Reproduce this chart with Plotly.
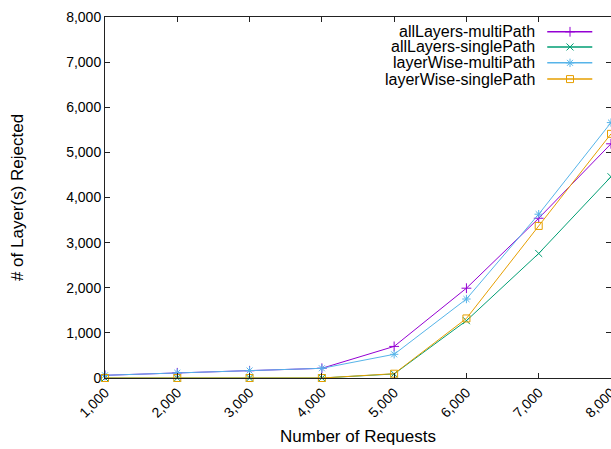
import plotly.graph_objects as go

requests = [1000, 2000, 3000, 4000, 5000, 6000, 7000, 8000]
all_multi = [60, 115, 160, 215, 700, 1990, 3540, 5190]
all_single = [0, 0, 0, 0, 90, 1270, 2760, 4460]
lw_multi = [60, 115, 165, 215, 525, 1750, 3630, 5660]
lw_single = [0, 0, 0, 0, 95, 1320, 3370, 5410]

names = ["allLayers-multiPath", "allLayers-singlePath", "layerWise-multiPath", "layerWise-singlePath"]
series = [all_multi, all_single, lw_multi, lw_single]
colors = ["#9400D3", "#009E73", "#56B4E9", "#E69F00"]
symbols = ["cross-thin-open", "x-thin-open", "asterisk-open", "square-open"]

x_ticks = [1000, 2000, 3000, 4000, 5000, 6000, 7000, 8000]
y_ticks = [0, 1000, 2000, 3000, 4000, 5000, 6000, 7000, 8000]

FONT = "Liberation Sans, Arial, Helvetica, sans-serif"

fig = go.Figure()
for name, vals, col, sym in zip(names, series, colors, symbols):
    fig.add_trace(go.Scatter(
        x=requests, y=vals, name=name, mode="lines+markers",
        line=dict(color=col, width=1),
        marker=dict(symbol=sym, size=7, color=col, line=dict(color=col, width=1)),
        showlegend=False, cliponaxis=False,
    ))

# custom gnuplot-style legend (text right, sample on the right)
leg_rows = [0.959, 0.917, 0.873, 0.828]
leg_text_x = 0.854
leg_x0, leg_xm, leg_x1 = 0.874, 0.919, 0.963
annotations = []
shapes = []
for name, col, sym, yy in zip(names, colors, symbols, leg_rows):
    annotations.append(dict(x=leg_text_x, y=yy, xref="paper", yref="paper",
                            text=name, showarrow=False, xanchor="right", yanchor="middle",
                            font=dict(family=FONT, size=16, color="#000")))
    shapes.append(dict(type="line", xref="paper", yref="paper", x0=leg_x0, x1=leg_x1,
                       y0=yy, y1=yy, line=dict(color=col, width=1.5)))
    fig.add_trace(go.Scatter(x=[leg_xm], y=[yy], xaxis="x2", yaxis="y2", mode="markers",
                             marker=dict(symbol=sym, size=7, color=col, line=dict(color=col, width=1)),
                             showlegend=False, hoverinfo="skip"))

axis_common = dict(showgrid=False, zeroline=False, showline=True, linecolor="#222", linewidth=1,
                   mirror="ticks", ticks="inside", ticklen=5, tickcolor="#222", automargin=False,
                   ticklabeloverflow="allow",
                   tickfont=dict(family=FONT, size=14, color="#000"))

fig.update_layout(
    width=611, height=449, autosize=False,
    margin=dict(l=105, r=0, t=17, b=71),
    paper_bgcolor="white", plot_bgcolor="white",
    font=dict(family=FONT, color="#000"),
    xaxis=dict(range=[1000, 8000], tickvals=x_ticks, tickformat=",d", tickangle=-45,
               title=dict(text="Number of Requests", font=dict(family=FONT, size=17), standoff=10),
               **axis_common),
    yaxis=dict(range=[0, 8000], tickvals=y_ticks, tickformat=",d",
               title=dict(text="# of Layer(s) Rejected", font=dict(family=FONT, size=17), standoff=38),
               **axis_common),
    xaxis2=dict(overlaying="x", range=[0, 1], visible=False),
    yaxis2=dict(overlaying="y", range=[0, 1], visible=False),
    annotations=annotations,
    shapes=shapes,
)

# remove the default page margin so the 611x449 figure fills the window exactly
fig.write_html(
    "out.html",
    config={"displayModeBar": False},
    post_script="document.body.style.margin='0';document.documentElement.style.overflow='hidden';document.body.style.overflow='hidden';",
)
